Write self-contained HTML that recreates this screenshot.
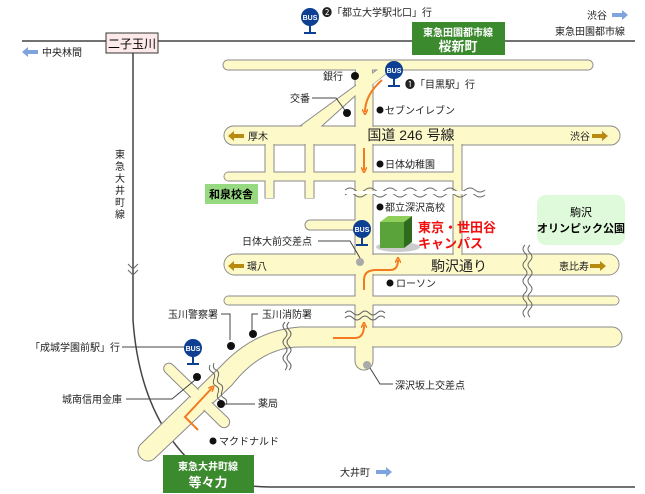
<!DOCTYPE html>
<html><head><meta charset="utf-8"><style>
html,body{margin:0;padding:0;background:#fff;}
svg{display:block;font-family:"Liberation Sans","Noto Sans CJK JP",sans-serif;}
</style></head><body>
<svg width="645" height="494" viewBox="0 0 645 494" xmlns="http://www.w3.org/2000/svg">
<defs>
<marker id="oa" markerWidth="6" markerHeight="6" refX="3" refY="3" orient="auto" markerUnits="userSpaceOnUse"><path d="M0,0 L6,3 L0,6" fill="none" stroke="#f47a20" stroke-width="1.5"/></marker>
</defs>
<!-- railways -->
<line x1="22" y1="41" x2="635" y2="41" stroke="#444" stroke-width="1.5"/>
<path d="M133,52 L133,320 Q140,420 200,470 Q230,487 270,487 L635,487" fill="none" stroke="#444" stroke-width="1.5"/>
<!-- roads: outline then fill -->
<g stroke="#888" stroke-width="13" fill="none" stroke-linecap="round" stroke-linejoin="round">
</g>
<g fill="#fdf9c9" stroke="#8a8a8a" stroke-width="1">
<rect x="223" y="60" width="370" height="10" rx="5"/>
<rect x="224" y="126" width="396" height="19" rx="9.5"/>
<rect x="224" y="172" width="238" height="9" rx="4.5"/>
<rect x="224" y="254" width="395" height="21" rx="10.5"/>
<rect x="224" y="296" width="395" height="9" rx="4.5"/>
<rect x="305" y="220" width="60" height="10" rx="5"/>
<rect x="265" y="140" width="9" height="58"/>
<rect x="305" y="140" width="9" height="58"/>
<rect x="453" y="140" width="9" height="118"/>
<rect x="355" y="65" width="18" height="305" rx="9"/>
<path d="M300,126 L378,69 L392,69 L320,126 Z"/>
<path d="M612,327 L300,327 Q255,330 222,365 L140,445 A10,10 0 0 0 154,459 L232,385 Q262,347 300,347 L612,347 A10,10 0 0 0 612,327 Z"/>
<path d="M165,372 A5,5 0 0 1 173,365 L228,418 A5,5 0 0 1 220,426 Z"/>
</g>
<!-- cover inner stroke lines -->
<g fill="#fdf9c9">
<rect x="224.5" y="127" width="395" height="17" rx="8.5"/>
<rect x="224.5" y="172.5" width="237" height="8" rx="4"/>
<rect x="224.5" y="255" width="394" height="19" rx="9.5"/>
<rect x="224.5" y="296.5" width="394" height="8" rx="4"/>
<rect x="356" y="60.5" width="16" height="309" rx="8"/>
<rect x="223.5" y="60.5" width="369" height="9" rx="4.5"/>
<rect x="265.5" y="140" width="8" height="58"/>
<rect x="305.5" y="140" width="8" height="58"/>
<rect x="453.5" y="140" width="8" height="118"/>
<rect x="306" y="220.5" width="58" height="9" rx="4.5"/>
<path d="M301,127 L379,69.5 L391,69.5 L320,127 Z"/>
<path d="M612,328 L300,328 Q255,331 223,366 L141,446 A9,9 0 0 0 153,458 L231,384 Q262,346 300,346 L612,346 A9,9 0 0 0 612,328 Z"/>
<path d="M166,372 A4,4 0 0 1 173,366 L227,418 A4,4 0 0 1 221,425 Z"/>
</g>
<!-- triangle inner block -->
<path d="M322,126 L355,96 L355,126 Z" fill="#fff" stroke="#8a8a8a"/>
<!-- wave breaks -->
<g fill="none" stroke="#666" stroke-width="1">
<path d="M345,190 q5,-4 10,0 t10,0 t10,0 t10,0 t10,0 t10,0 t10,0 t10,0 t10,0 t10,0 t10,0 t10,0 t10,0 t10,0"/>
<path d="M345,195 q5,-4 10,0 t10,0 t10,0 t10,0 t10,0 t10,0 t10,0 t10,0 t10,0 t10,0 t10,0 t10,0 t10,0 t10,0"/>
<path d="M345,313 q4,-4 8,0 t8,0 t8,0 t8,0 t8,0"/>
<path d="M345,318 q4,-4 8,0 t8,0 t8,0 t8,0 t8,0"/>
<path d="M525,245 q-4,4 0,8 t0,8 t0,8 t0,8 t0,8 t0,8 t0,8 t0,8 t0,8"/>
<path d="M530,245 q-4,4 0,8 t0,8 t0,8 t0,8 t0,8 t0,8 t0,8 t0,8 t0,8"/>
<path d="M285,322 q-4,4 0,8 t0,8 t0,8 t0,8 t0,8 t0,8"/>
<path d="M289,322 q-4,4 0,8 t0,8 t0,8 t0,8 t0,8 t0,8"/>
<path d="M210,365 q-2,5 2,7 t2,7 t2,7 t2,7 t2,7 t2,7"/>
<path d="M214,363 q-2,5 2,7 t2,7 t2,7 t2,7 t2,7 t2,7"/>
<path d="M128,264 l5,5 l5,-5 M128,270 l5,5 l5,-5"/>
</g>
<rect x="346" y="191" width="128" height="3" fill="#fff"/>
<!-- orange route -->
<g fill="none" stroke="#f47a20" stroke-width="2" marker-end="url(#oa)">
<path d="M382,80 Q365,95 365,112"/>
<path d="M364,148 L364,170"/>
<path d="M364,290 L364,280 Q364,270 376,270 L390,270 Q398,270 398,260"/>
<path d="M333,338 L355,338 Q364,338 364,325"/>
<path d="M198,430 L185,417 L212,388"/>
</g>
<!-- gray dots -->
<circle cx="360" cy="262" r="4" fill="#aaa"/>
<circle cx="367" cy="365" r="4" fill="#aaa"/>
<!-- leader lines -->
<g fill="none" stroke="#444" stroke-width="1">
<path d="M312,98 L336,98 L347,113"/>
<path d="M318,241 L350,241 L360,258"/>
<path d="M370,368 L380,384 L393,384"/>
<path d="M221,314 L230,314 L230,340"/>
<path d="M258,314 L252,314 L252,332"/>
<path d="M122,347 L190,347"/>
<path d="M126,399 L172,399 L195,380"/>
<path d="M223,404 L255,404"/>
</g>
<!-- black dots -->
<g fill="#111">
<circle cx="355" cy="76" r="4"/><circle cx="347" cy="113" r="4"/>
<circle cx="380" cy="110" r="3.5"/><circle cx="380" cy="164" r="3.5"/>
<circle cx="380" cy="207" r="3.5"/><circle cx="390" cy="283" r="3.5"/>
<circle cx="231" cy="346" r="4"/><circle cx="253" cy="334" r="4"/>
<circle cx="197" cy="377" r="4"/><circle cx="221" cy="404" r="4"/>
<circle cx="213" cy="441" r="3.5"/>
</g>
<!-- bus icons -->
<g>
<g transform="translate(310,17)"><circle r="9" fill="#0d3f92"/><rect x="-1" y="8" width="2" height="8" fill="#0d3f92"/><rect x="-6" y="15" width="12" height="2" fill="#0d3f92"/><text y="3" font-size="7" fill="#fff" text-anchor="middle" font-weight="bold">BUS</text></g>
<g transform="translate(394,70)"><circle r="9" fill="#0d3f92"/><rect x="-1" y="8" width="2" height="8" fill="#0d3f92"/><rect x="-6" y="15" width="12" height="2" fill="#0d3f92"/><text y="3" font-size="7" fill="#fff" text-anchor="middle" font-weight="bold">BUS</text></g>
<g transform="translate(362,229)"><circle r="9" fill="#0d3f92"/><rect x="-1" y="8" width="2" height="8" fill="#0d3f92"/><rect x="-6" y="15" width="12" height="2" fill="#0d3f92"/><text y="3" font-size="7" fill="#fff" text-anchor="middle" font-weight="bold">BUS</text></g>
<g transform="translate(193,348)"><circle r="9" fill="#0d3f92"/><rect x="-1" y="8" width="2" height="8" fill="#0d3f92"/><rect x="-6" y="15" width="12" height="2" fill="#0d3f92"/><text y="3" font-size="7" fill="#fff" text-anchor="middle" font-weight="bold">BUS</text></g>
</g>
<!-- campus building -->
<ellipse cx="398" cy="247" rx="22" ry="5" fill="#ccc"/>
<path d="M380,222 L388,216 L412,216 L404,222 Z" fill="#8fd05a"/>
<rect x="380" y="222" width="24" height="26" fill="#5aa23a"/>
<path d="M404,222 L412,216 L412,242 L404,248 Z" fill="#2e6b1c"/>
<!-- boxes -->
<rect x="106" y="33" width="52" height="20" fill="#fde8ea" stroke="#333"/>
<text x="132" y="48" font-size="12" text-anchor="middle">二子玉川</text>
<rect x="412" y="22" width="93" height="33" fill="#3c8a2e"/>
<text x="458" y="36" font-size="10" fill="#fff" text-anchor="middle" font-weight="bold">東急田園都市線</text>
<text x="458" y="51" font-size="13" fill="#fff" text-anchor="middle" font-weight="bold">桜新町</text>
<rect x="163" y="455" width="91" height="38" fill="#3c8a2e"/>
<text x="208" y="470" font-size="10" fill="#fff" text-anchor="middle" font-weight="bold">東急大井町線</text>
<text x="208" y="487" font-size="13" fill="#fff" text-anchor="middle" font-weight="bold">等々力</text>
<rect x="205" y="184" width="53" height="20" fill="#96d981"/>
<text x="231" y="198" font-size="11" text-anchor="middle" font-weight="bold">和泉校舎</text>
<rect x="537" y="195" width="88" height="50" rx="9" fill="#dffadb"/>
<text x="581" y="216" font-size="11" text-anchor="middle">駒沢</text>
<text x="581" y="232" font-size="11" text-anchor="middle" font-weight="bold">オリンピック公園</text>
<!-- arrows -->
<g fill="#7fa3dc">
<path d="M22,52 l6,-5 v3 h10 v4 h-10 v3 z"/>
<path d="M628,15 l-6,-5 v3 h-10 v4 h10 v3 z"/>
<path d="M392,472 l-6,-5 v3 h-10 v4 h10 v3 z"/>
</g>
<g fill="#b88a10">
<path d="M228,136 l6,-5 v3 h10 v4 h-10 v3 z"/>
<path d="M608,136 l-6,-5 v3 h-10 v4 h10 v3 z"/>
<path d="M228,266 l6,-5 v3 h10 v4 h-10 v3 z"/>
<path d="M606,266 l-6,-5 v3 h-10 v4 h10 v3 z"/>
</g>
<!-- labels -->
<g font-size="10" fill="#222">
<text x="42" y="56">中央林間</text>
<text x="322" y="16">❷「都立大学駅北口」行</text>
<text x="587" y="19">渋谷</text>
<text x="555" y="35">東急田園都市線</text>
<text x="323" y="80">銀行</text>
<text x="290" y="102">交番</text>
<text x="385" y="114">セブンイレブン</text>
<text x="405" y="88">❶「目黒駅」行</text>
<text x="248" y="140">厚木</text>
<text x="570" y="140">渋谷</text>
<text x="385" y="168">日体幼稚園</text>
<text x="385" y="211">都立深沢高校</text>
<text x="242" y="245">日体大前交差点</text>
<text x="247" y="270">環八</text>
<text x="559" y="270">恵比寿</text>
<text x="396" y="287">ローソン</text>
<text x="168" y="318">玉川警察署</text>
<text x="262" y="318">玉川消防署</text>
<text x="30" y="351">「成城学園前駅」行</text>
<text x="395" y="389">深沢坂上交差点</text>
<text x="62" y="403">城南信用金庫</text>
<text x="258" y="407">薬局</text>
<text x="219" y="445">マクドナルド</text>
<text x="340" y="476">大井町</text>
</g>
<g font-size="10" fill="#222" text-anchor="middle">
<text x="120" y="158">東</text><text x="120" y="170">急</text><text x="120" y="182">大</text><text x="120" y="194">井</text><text x="120" y="206">町</text><text x="120" y="218">線</text>
</g>
<text x="411" y="140" font-size="14" text-anchor="middle" fill="#222">国道 246 号線</text>
<text x="459" y="271" font-size="14" text-anchor="middle" fill="#222">駒沢通り</text>
<text x="418" y="232" font-size="13" font-weight="bold" fill="#f01010">東京・世田谷</text>
<text x="418" y="248" font-size="13" font-weight="bold" fill="#f01010">キャンパス</text>
</svg>
</body></html>
